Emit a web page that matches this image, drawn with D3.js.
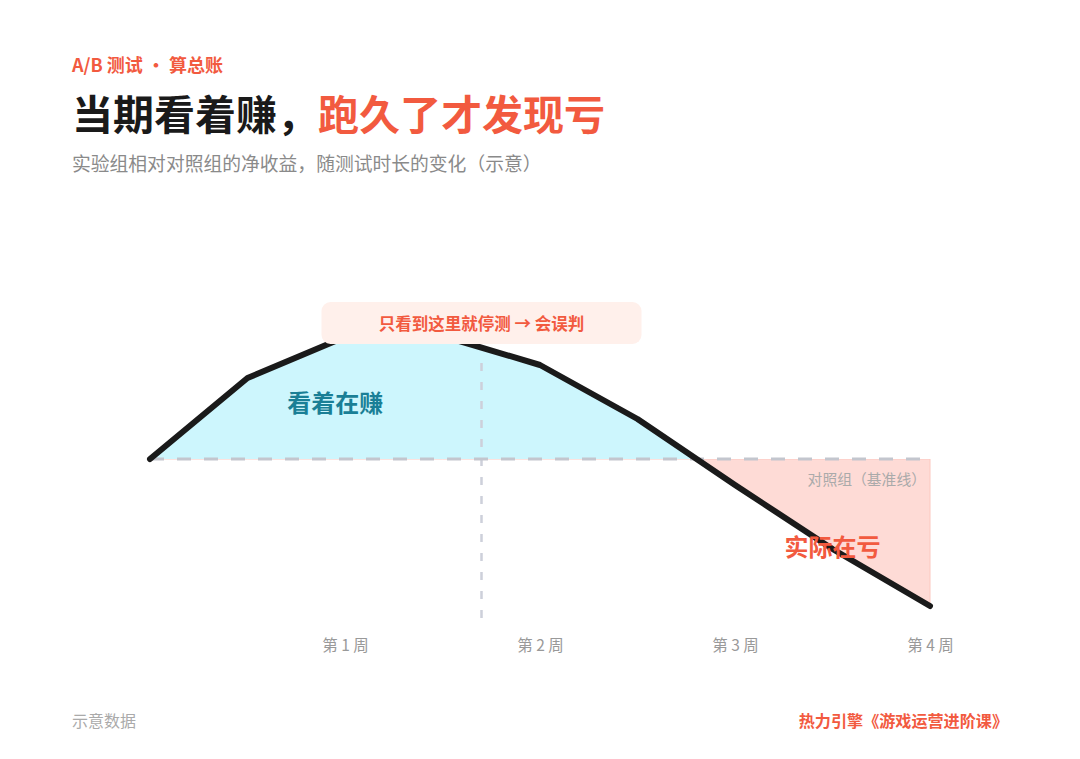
<!DOCTYPE html>
<html lang="zh">
<head>
<meta charset="utf-8"/>
<title>A/B 测试 · 算总账</title>
<script src="https://d3js.org/d3.v7.min.js"></script>
<style>
  body { margin: 0; background: #fff; }
  svg text { font-family: "Noto Sans CJK SC", "Noto Sans", sans-serif; }
</style>
</head>
<body>
<svg id="chart" width="1080" height="759"></svg>
<script>
// data: net gain of test group vs control, sampled every half week
const weeks = [0, 0.5, 1, 1.5, 2, 2.5, 3, 3.5, 4];
const netGain = [0, 0.81, 1.22, 1.23, 0.94, 0.40, -0.26, -0.90, -1.47];
const tickWeeks = [1, 2, 3, 4];
const tickLabels = ["第 1 周", "第 2 周", "第 3 周", "第 4 周"];
const stopWeek = 1.7;

const red = "#f25a3f";
const svg = d3.select("#chart");
const W = 1080, H = 759;

const x = d3.scaleLinear().domain([0, 4]).range([150, 930]);
const y = d3.scaleLinear().domain([-1.5, 1.5]).range([609, 309]);
const pts = weeks.map((w, i) => ({w: w, v: netGain[i]}));

// header
svg.append("text").attr("x", 72).attr("y", 72)
  .attr("font-size", 18).attr("font-weight", 700).attr("fill", red)
  .text("A/B 测试 · 算总账");
const title = svg.append("text").attr("x", 72).attr("y", 130)
  .attr("font-size", 41).attr("font-weight", 700);
title.append("tspan").attr("fill", "#1a1a1a").text("当期看着赚，");
title.append("tspan").attr("fill", red).text("跑久了才发现亏");
svg.append("text").attr("x", 72).attr("y", 171)
  .attr("font-size", 18.8).attr("fill", "#8a8a8a")
  .text("实验组相对对照组的净收益，随测试时长的变化（示意）");

// clip regions above / below the baseline
const defs = svg.append("defs");
defs.append("clipPath").attr("id", "above").append("rect")
  .attr("x", 0).attr("y", 0).attr("width", W).attr("height", y(0));
defs.append("clipPath").attr("id", "below").append("rect")
  .attr("x", 0).attr("y", y(0)).attr("width", W).attr("height", H - y(0));

const area = d3.area().x(d => x(d.w)).y0(y(0)).y1(d => y(d.v));
svg.append("path").datum(pts).attr("d", area)
  .attr("clip-path", "url(#above)").attr("fill", "#cdf6fd");
svg.append("path").datum(pts).attr("d", area)
  .attr("clip-path", "url(#below)").attr("fill", "#fedbd6")
  .attr("stroke", "#fcc8c0").attr("stroke-width", 1);

// stop marker (vertical dashed)
svg.append("line")
  .attr("x1", x(stopWeek)).attr("x2", x(stopWeek))
  .attr("y1", 363).attr("y2", 625)
  .attr("stroke", "#cdd0da").attr("stroke-width", 2.5)
  .attr("stroke-dasharray", "8,11");

// baseline
svg.append("line")
  .attr("x1", x(0)).attr("x2", x(4))
  .attr("y1", y(0)).attr("y2", y(0))
  .attr("stroke", "#c3c6ce").attr("stroke-width", 3)
  .attr("stroke-dasharray", "14,13");

svg.append("text").attr("x", x(4) - 4).attr("y", y(0) + 26)
  .attr("text-anchor", "end").attr("font-size", 14.8).attr("fill", "#aaaaaa")
  .text("对照组（基准线）");

// curve
const line = d3.line().x(d => x(d.w)).y(d => y(d.v));
svg.append("path").datum(pts).attr("d", line)
  .attr("fill", "none").attr("stroke", "#1a1a1a").attr("stroke-width", 6)
  .attr("stroke-linejoin", "round").attr("stroke-linecap", "round");

// area labels
svg.append("text").attr("x", x(0.95)).attr("y", y(0.58))
  .attr("text-anchor", "middle").attr("dominant-baseline", "central")
  .attr("font-size", 24).attr("font-weight", 700).attr("fill", "#1a7f96")
  .text("看着在赚");
svg.append("text").attr("x", x(3.5)).attr("y", y(-0.86))
  .attr("text-anchor", "middle").attr("dominant-baseline", "central")
  .attr("font-size", 24).attr("font-weight", 700).attr("fill", red)
  .text("实际在亏");

// callout box
const bw = 320, bh = 42;
const cg = svg.append("g").attr("transform", `translate(${x(stopWeek)},302)`);
cg.append("rect").attr("x", -bw / 2).attr("y", 0).attr("width", bw).attr("height", bh)
  .attr("rx", 9).attr("fill", "#fff0eb");
cg.append("text").attr("x", 0).attr("y", bh / 2)
  .attr("text-anchor", "middle").attr("dominant-baseline", "central")
  .attr("font-size", 16.5).attr("font-weight", 700).attr("fill", red)
  .text("只看到这里就停测 → 会误判");

// x axis
const xAxis = d3.axisBottom(x).tickValues(tickWeeks)
  .tickSize(0).tickPadding(0)
  .tickFormat((d, i) => tickLabels[i]);
const ag = svg.append("g").attr("transform", "translate(0,640)").call(xAxis);
ag.select(".domain").remove();
ag.selectAll("text")
  .attr("font-family", "'Noto Sans CJK SC', sans-serif")
  .attr("font-size", 15.5).attr("fill", "#999999");

// footer
svg.append("text").attr("x", 72).attr("y", 727)
  .attr("font-size", 16).attr("fill", "#aaaaaa").text("示意数据");
svg.append("text").attr("x", 1008).attr("y", 727)
  .attr("text-anchor", "end").attr("font-size", 16.1).attr("font-weight", 700)
  .attr("fill", red).text("热力引擎《游戏运营进阶课》");
</script>
</body>
</html>
